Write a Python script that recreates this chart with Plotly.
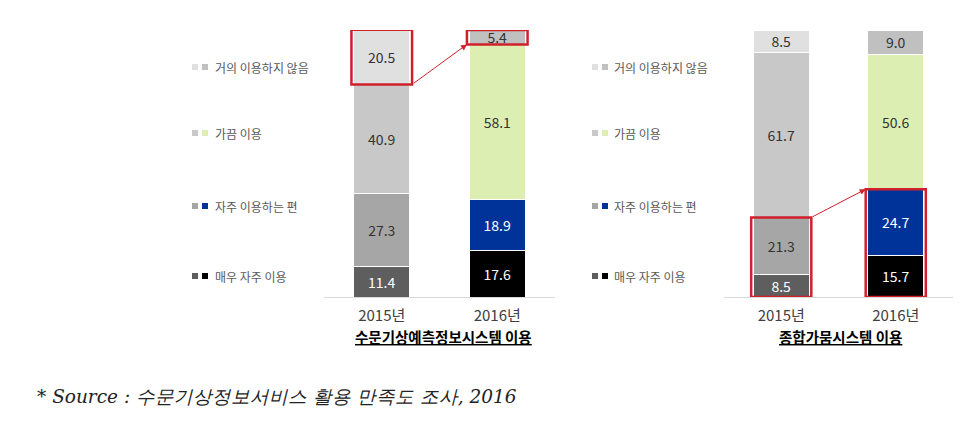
import plotly.graph_objects as go

W, H = 972, 423

categories = ["2015년", "2016년"]
levels = ["매우 자주 이용", "자주 이용하는 편", "가끔 이용", "거의 이용하지 않음"]  # bottom -> top

left_2015 = [11.4, 27.3, 40.9, 20.5]
left_2016 = [17.6, 18.9, 58.1, 5.4]
right_2015 = [8.5, 21.3, 61.7, 8.5]
right_2016 = [15.7, 24.7, 50.6, 9.0]

left_title = "수문기상예측정보시스템 이용"
right_title = "종합가뭄시스템 이용"
source_text = "* Source : 수문기상정보서비스 활용 만족도 조사, 2016"

colors_2015 = ["#5E5E5E", "#A6A6A6", "#C8C8C8", "#E0E0E0"]
colors_2016 = ["#000000", "#003399", "#DDEEB2", "#C0C0C0"]
text_2015 = ["#FFFFFF", "#333333", "#333333", "#333333"]
text_2016 = ["#FFFFFF", "#FFFFFF", "#333333", "#333333"]

RED = "#D0202C"
FONT = "Noto Sans CJK KR"
BAR_W = 0.485

fig = go.Figure()


def add_chart(vals15, vals16, xa, ya):
    for i, lev in enumerate(levels):
        fig.add_trace(go.Bar(
            x=categories, y=[vals15[i], vals16[i]], name=lev,
            xaxis=xa, yaxis=ya, width=BAR_W,
            marker=dict(color=[colors_2015[i], colors_2016[i]],
                        line=dict(color="#FFFFFF", width=1)),
            texttemplate="%{y:.1f}", textposition="inside",
            insidetextanchor="middle", constraintext="none", textangle=0,
            textfont=dict(family=FONT, size=14, color=[text_2015[i], text_2016[i]]),
            showlegend=False, hoverinfo="skip",
        ))


add_chart(left_2015, left_2016, "x", "y")
add_chart(right_2015, right_2016, "x2", "y2")

ydom = [(H - 297) / H, (H - 30) / H]
axis_common = dict(showgrid=False, zeroline=False, showline=True, linecolor="#D9D9D9",
                   linewidth=1, ticks="outside", ticklen=5, tickcolor="rgba(0,0,0,0)",
                   tickfont=dict(family=FONT, size=15, color="#404040"), fixedrange=True)
yaxis_common = dict(range=[0, 100], domain=ydom, visible=False, fixedrange=True)

fig.update_layout(
    width=W, height=H, margin=dict(l=0, r=0, t=0, b=0),
    paper_bgcolor="white", plot_bgcolor="white",
    barmode="stack",
    xaxis=dict(domain=[324 / W, 555 / W], anchor="y", **axis_common),
    xaxis2=dict(domain=[724 / W, 953 / W], anchor="y2", **axis_common),
    yaxis=dict(anchor="x", **yaxis_common),
    yaxis2=dict(anchor="x2", **yaxis_common),
)

# highlight boxes & arrows (derived from data)
shapes = []
annotations = []


def box(xref, yref, idx, y0, y1):
    shapes.append(dict(type="rect", xref=xref, yref=yref,
                       x0=idx - BAR_W / 2 - 0.02, x1=idx + BAR_W / 2 + 0.02,
                       y0=y0, y1=y1, line=dict(color=RED, width=2.5),
                       fillcolor="rgba(0,0,0,0)", layer="above"))


def arrow(xref, yref, ax, ay, x, y):
    annotations.append(dict(xref=xref, yref=yref, axref=xref, ayref=yref,
                            x=x, y=y, ax=ax, ay=ay, text="", showarrow=True,
                            arrowhead=2, arrowsize=1.2, arrowwidth=1,
                            arrowcolor=RED, standoff=0, startstandoff=0))


l15_top = sum(left_2015)
l15_low = sum(left_2015[:3])
l16_top = sum(left_2016)
l16_low = sum(left_2016[:3])
box("x", "y", 0, l15_low, l15_top)
box("x", "y", 1, l16_low, l16_top)
arrow("x", "y", BAR_W / 2 + 0.02, l15_low, 1 - BAR_W / 2 - 0.02, l16_low)

r15_sub = sum(right_2015[:2])
r16_sub = sum(right_2016[:2])
box("x2", "y2", 0, 0, r15_sub)
box("x2", "y2", 1, 0, r16_sub)
arrow("x2", "y2", BAR_W / 2 + 0.02, r15_sub, 1 - BAR_W / 2 - 0.02, r16_sub)

# custom legends
legend_py = [276, 206, 133, 67]  # bottom->top level order
for sq_x, txt_x in [(192, 213), (592, 612)]:
    for i, lev in enumerate(levels):
        py = legend_py[i]
        for k, col in enumerate([colors_2015[i], colors_2016[i]]):
            x0 = sq_x + k * 10
            shapes.append(dict(type="rect", xref="paper", yref="paper",
                               x0=x0 / W, x1=(x0 + 6) / W,
                               y0=1 - (py + 3) / H, y1=1 - (py - 3) / H,
                               line=dict(width=0), fillcolor=col))
        annotations.append(dict(xref="paper", yref="paper", x=txt_x / W, y=1 - py / H,
                                xanchor="left", yanchor="middle", showarrow=False,
                                text=lev, font=dict(family=FONT, size=12, color="#595959")))

# chart titles
annotations.append(dict(xref="paper", yref="paper", x=443 / W, y=1 - 336 / H,
                        xanchor="center", yanchor="middle", showarrow=False,
                        text="<b><u>" + left_title + "</u></b>",
                        font=dict(family=FONT, size=14.5, color="#000000")))
annotations.append(dict(xref="paper", yref="paper", x=840 / W, y=1 - 336 / H,
                        xanchor="center", yanchor="middle", showarrow=False,
                        text="<b><u>" + right_title + "</u></b>",
                        font=dict(family=FONT, size=14.5, color="#000000")))

# source
annotations.append(dict(xref="paper", yref="paper", x=35 / W, y=1 - 396 / H,
                        xanchor="left", yanchor="middle", showarrow=False,
                        text="<i>" + source_text + "</i>",
                        font=dict(family="DejaVu Serif", size=18.5, color="#222222")))

fig.update_layout(shapes=shapes, annotations=annotations)
fig.write_html("out.html")
